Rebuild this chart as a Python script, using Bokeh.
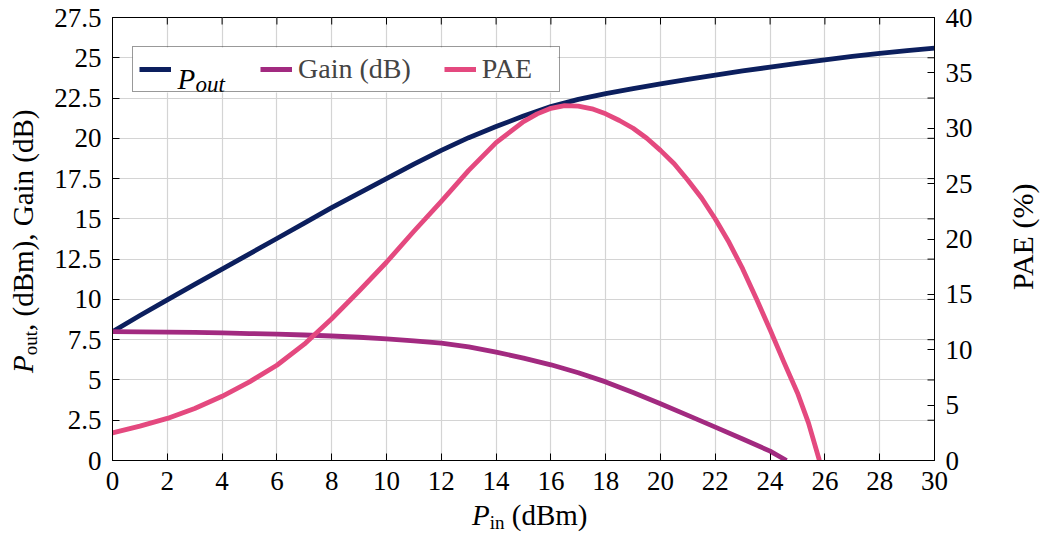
import numpy as np
from bokeh.plotting import figure
from bokeh.models import (Range1d, LinearAxis, FixedTicker, Legend, LegendItem,
                          Label, Div, BoxAnnotation)
from bokeh.layouts import row, column
from bokeh.embed import file_html
from bokeh.resources import INLINE

# ---------------- data ----------------
pin = list(range(0, 31))
pout = [8.0, 9.0, 9.97, 10.93, 11.88, 12.83, 13.78, 14.74, 15.7, 16.6, 17.5,
        18.4, 19.25, 20.04, 20.73, 21.38, 21.97, 22.42, 22.78, 23.08, 23.38,
        23.66, 23.93, 24.18, 24.42, 24.65, 24.87, 25.08, 25.28, 25.45, 25.6]

gain_pin = list(range(0, 25)) + [24.6]
gain = [8.0, 7.99, 7.97, 7.95, 7.92, 7.88, 7.84, 7.79, 7.73, 7.65, 7.55,
        7.43, 7.28, 7.05, 6.73, 6.36, 5.94, 5.45, 4.88, 4.22, 3.52, 2.8,
        2.07, 1.33, 0.58, 0.0]

pae_pin = [0, 1, 2, 3, 4, 5, 6, 7, 8, 9, 10, 11, 12, 13, 14, 15, 15.5, 16,
           16.5, 17, 17.5, 18, 18.5, 19, 19.5, 20, 20.5, 21, 21.5, 22, 22.5,
           23, 23.5, 24, 24.5, 25, 25.4, 25.8]
pae = [2.5, 3.1, 3.8, 4.7, 5.8, 7.1, 8.6, 10.5, 12.8, 15.3, 17.9, 20.7,
       23.4, 26.2, 28.7, 30.6, 31.3, 31.8, 32.05, 32.0, 31.75, 31.3, 30.7,
       30.0, 29.1, 28.0, 26.8, 25.3, 23.7, 21.8, 19.7, 17.3, 14.6, 11.8,
       8.9, 6.1, 3.4, 0.0]

x_ticks = list(range(0, 31, 2))
y_ticks = [0, 2.5, 5, 7.5, 10, 12.5, 15, 17.5, 20, 22.5, 25, 27.5]
y_tick_labels = ["0", "2.5", "5", "7.5", "10", "12.5", "15", "17.5",
                 "20", "22.5", "25", "27.5"]
pae_ticks = [0, 5, 10, 15, 20, 25, 30, 35, 40]
pae_tick_labels = ["0", "5", "10", "15", "20", "25", "30", "35", "40"]

# ---------------- styling / layout constants ----------------
FONT = "Liberation Serif"
C_POUT = "#0c1f5e"
C_GAIN = "#a22a80"
C_PAE = "#e4497f"
LW = 4.8

LEFT_W, RIGHT_W, BOTTOM_H = 45, 42, 33
PW, PH = 955, 503
BL, BR, BT, BB = 67, 66, 17, 43
FRAME_L = LEFT_W + BL          # page x of frame left
FRAME_B = PH - BB              # page y of frame bottom
PX_X = (PW - BL - BR) / 30.0
PX_Y = (PH - BT - BB) / 27.5


def dx(px):
    return (px - FRAME_L) / PX_X


def dy(py):
    return (FRAME_B - py) / PX_Y


p = figure(width=PW, height=PH, x_range=Range1d(0, 30), y_range=Range1d(0, 27.5),
           output_backend="svg", toolbar_location=None,
           min_border_left=BL, min_border_right=BR,
           min_border_top=BT, min_border_bottom=BB)
p.margin = 0
p.title.visible = False
p.extra_y_ranges = {"pae": Range1d(0, 40)}
p.background_fill_color = "white"
p.border_fill_color = "white"
p.outline_line_color = "black"
p.outline_line_width = 1
p.outline_line_alpha = 1

right_axis = LinearAxis(y_range_name="pae")
p.add_layout(right_axis, "right")

p.xaxis.ticker = FixedTicker(ticks=x_ticks)
p.yaxis[0].ticker = FixedTicker(ticks=y_ticks)
p.yaxis[0].major_label_overrides = dict(zip(y_ticks, y_tick_labels))
right_axis.ticker = FixedTicker(ticks=pae_ticks)
right_axis.major_label_overrides = dict(zip(pae_ticks, pae_tick_labels))
p.xgrid.ticker = FixedTicker(ticks=x_ticks)
p.ygrid.ticker = FixedTicker(ticks=y_ticks)

for ax in p.axis:
    ax.major_tick_in = 7
    ax.major_tick_out = 0
    ax.minor_tick_in = 0
    ax.minor_tick_out = 0
    ax.axis_line_color = "black"
    ax.major_tick_line_color = "black"
    ax.major_label_text_font = FONT
    ax.major_label_text_font_size = "27px"
    ax.major_label_text_color = "black"
    ax.major_label_standoff = 11

p.grid.grid_line_color = "#d4d4d4"
p.grid.grid_line_width = 1.2

# white backing for the legend box (legend itself is transparent)
p.add_layout(BoxAnnotation(left=dx(132), right=dx(557), top=dy(47), bottom=dy(92),
                           fill_color="white", fill_alpha=1, line_alpha=0,
                           level="underlay"))

# mirrored tick marks (right side for left axis, top side for x axis)
p.scatter(x=[30] * len(y_ticks), y=y_ticks, marker="dash", size=14,
          line_color="black", line_width=1)
p.scatter(x=x_ticks, y=[27.5] * len(x_ticks), marker="dash", size=14,
          angle=np.pi / 2, line_color="black", line_width=1)

r_pout = p.line(pin, pout, line_color=C_POUT, line_width=LW, line_join="round")
r_gain = p.line(gain_pin, gain, line_color=C_GAIN, line_width=LW, line_join="round")
r_pae = p.line(pae_pin, pae, line_color=C_PAE, line_width=LW, line_join="round",
               y_range_name="pae")

legend = Legend(items=[LegendItem(label=" ", renderers=[r_pout]),
                       LegendItem(label="Gain (dB)", renderers=[r_gain]),
                       LegendItem(label="PAE   ", renderers=[r_pae])],
                orientation="horizontal", location=(20, 368),
                label_text_font=FONT, label_text_font_size="28px",
                glyph_width=32, glyph_height=20, label_standoff=6,
                label_width=50, spacing=33, padding=6, margin=0,
                border_line_color="#333333", border_line_width=1,
                background_fill_alpha=0)
p.add_layout(legend)


def lab(px, py, text, size, italic=False):
    p.add_layout(Label(x=dx(px), y=dy(py), text=text, text_font=FONT,
                       text_font_size=size, text_color="black",
                       text_font_style="italic" if italic else "normal",
                       text_align="left", text_baseline="alphabetic"))


# legend P_out entry text
lab(177, 78, "P", "29px", italic=True)
lab(195, 84, "out", "23px", italic=True)


def span_style(fs, left, top, rotate):
    s = ("position:absolute;left:%.1fpx;top:%.1fpx;white-space:nowrap;"
         "font-family:'Liberation Serif';font-size:%dpx;line-height:%dpx;color:black;"
         % (left, top, fs, fs))
    if rotate:
        s += "transform:rotate(-90deg);transform-origin:0 0;"
    return s


SUB = "font-size:19px;line-height:19px;vertical-align:-4px;"
BASE = 0.8375  # baseline offset inside a line box of line-height 1em

left_html = ('<div style="position:relative;width:%dpx;height:%dpx;">'
             '<span style="%s"><i>P</i><span style="%s">out</span>, (dBm), Gain (dB)</span></div>'
             % (LEFT_W, PH, span_style(29, 33 - BASE * 29, 373, True), SUB))
right_html = ('<div style="position:relative;width:%dpx;height:%dpx;">'
              '<span style="%s">PAE (%%)</span></div>'
              % (RIGHT_W, PH, span_style(30, 33 - BASE * 30, 290, True)))
bottom_html = ('<div style="position:relative;width:%dpx;height:%dpx;">'
               '<span style="%s"><i>P</i><span style="%s">in</span> (dBm)</span></div>'
               % (LEFT_W + PW + RIGHT_W, BOTTOM_H,
                  span_style(29, 472, 525 - PH - BASE * 29, False), SUB))

left_div = Div(text=left_html, width=LEFT_W, height=PH, margin=0)
right_div = Div(text=right_html, width=RIGHT_W, height=PH, margin=0)
bottom_div = Div(text=bottom_html, width=LEFT_W + PW + RIGHT_W, height=BOTTOM_H, margin=0)

root = column(row(left_div, p, right_div, spacing=0, margin=0), bottom_div,
              spacing=0, margin=0)

open("out.html", "w").write(file_html(root, INLINE))
